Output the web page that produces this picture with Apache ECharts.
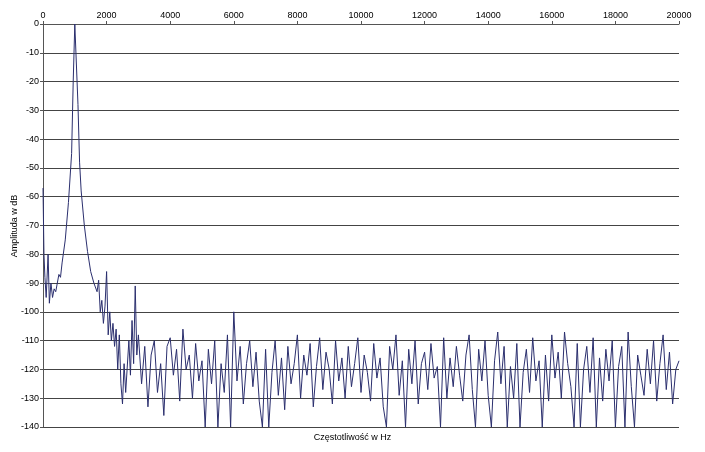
<!DOCTYPE html>
<html>
<head>
<meta charset="utf-8">
<script src="https://cdn.jsdelivr.net/npm/echarts@6/dist/echarts.min.js"></script>
<style>html,body{margin:0;padding:0;background:#fff}#chart{width:705px;height:452px}</style>
</head>
<body>
<div id="chart"></div>
<script>
// widmo - czesc niska (czestotliwosc, amplituda)
var lowFreq = [0,30,60,100,160,200,250,300,350,400,450,500,550,600,700,800,900,950,1000,1050,1100,1150,1200,1300,1400,1500,1600,1700,1750,1800,1850,1900,1950,2000,2050,2100,2150,2200,2250,2300,2350,2400,2450,2500,2550,2600,2700,2750,2800,2850,2900,2950];
var lowAmp = [-57,-80,-88,-95,-80,-97,-90,-95,-92,-93,-90,-87,-88,-83,-75,-62,-45,-20,0,0,-28,-48,-58,-70,-79,-86,-90,-93,-89,-100,-96,-104,-98,-86,-108,-100,-110,-104,-112,-106,-120,-108,-125,-132,-118,-128,-110,-122,-103,-118,-91,-115];
// szum od 3000 Hz co 100 Hz
var noiseStart = 3000;
var noiseStep = 100;
var noiseAmp = [
	-108,-125,-112,-133,-115,-110,-128,-118,-136,-112,
	-109,-122,-113,-131,-106,-120,-115,-130,-111,-124,
	-117,-140,-113,-125,-110,-140,-118,-128,-108,-140,
	-100,-124,-112,-132,-118,-110,-126,-114,-131,-140,
	-113,-140,-121,-110,-129,-116,-134,-112,-125,-118,
	-108,-130,-115,-122,-111,-133,-119,-109,-127,-114,
	-120,-132,-110,-124,-116,-130,-112,-126,-118,-109,
	-128,-115,-121,-131,-111,-123,-116,-133,-140,-112,
	-120,-108,-129,-117,-140,-113,-125,-110,-132,-118,
	-114,-127,-111,-123,-119,-140,-109,-130,-116,-126,
	-112,-122,-131,-115,-108,-127,-140,-113,-124,-110,
	-129,-140,-117,-107,-125,-112,-140,-119,-130,-111,
	-140,-121,-113,-128,-109,-124,-117,-140,-115,-131,
	-108,-123,-114,-130,-107,-118,-126,-140,-111,-140,
	-120,-112,-128,-109,-140,-116,-131,-113,-124,-110,
	-140,-119,-112,-140,-107,-126,-140,-115,-122,-129,
	-113,-125,-110,-131,-118,-108,-127,-114,-132,-120,
	-117
];

var data = [];
for(var i=0;i<lowFreq.length;i++){
	data.push([lowFreq[i],lowAmp[i]]);
}
for(var j=0;j<noiseAmp.length;j++){
	data.push([noiseStart+j*noiseStep,noiseAmp[j]]);
}

var myChart = echarts.init(document.getElementById('chart'));
var option = {
	animation:false,
	grid:{left:43,right:26,top:24,bottom:25,containLabel:false,outerBoundsMode:'none'},
	xAxis:{
		type:'value',
		position:'top',
		min:0,max:20000,interval:2000,
		axisLine:{lineStyle:{color:'#555'}},
		axisTick:{show:true,length:3,lineStyle:{color:'#555'}},
		axisLabel:{fontFamily:'Liberation Sans',fontSize:9,color:'#000',margin:4,formatter:function(v){return String(v);}},
		splitLine:{show:false}
	},
	yAxis:{
		type:'value',
		min:-140,max:0,interval:10,
		axisLine:{show:true,lineStyle:{color:'#555'}},
		axisTick:{show:true,length:3,lineStyle:{color:'#555'}},
		axisLabel:{fontFamily:'Liberation Sans',fontSize:9,color:'#000',margin:4},
		splitLine:{lineStyle:{color:'#444',width:1}}
	},
	graphic:[
		{type:'text',left:'center',top:433,style:{text:'Częstotliwość w Hz',font:'9px Liberation Sans',fill:'#000'}},
		{type:'text',x:15,y:226,rotation:Math.PI/2,style:{text:'Amplituda w dB',font:'9px Liberation Sans',fill:'#000',align:'center',verticalMiddle:'middle',verticalAlign:'middle'}}
	],
	series:[{
		type:'line',
		data:data,
		symbol:'none',
		clip:true,
		lineStyle:{color:'#2b2f6e',width:1}
	}]
};
myChart.setOption(option);
</script>
</body>
</html>
